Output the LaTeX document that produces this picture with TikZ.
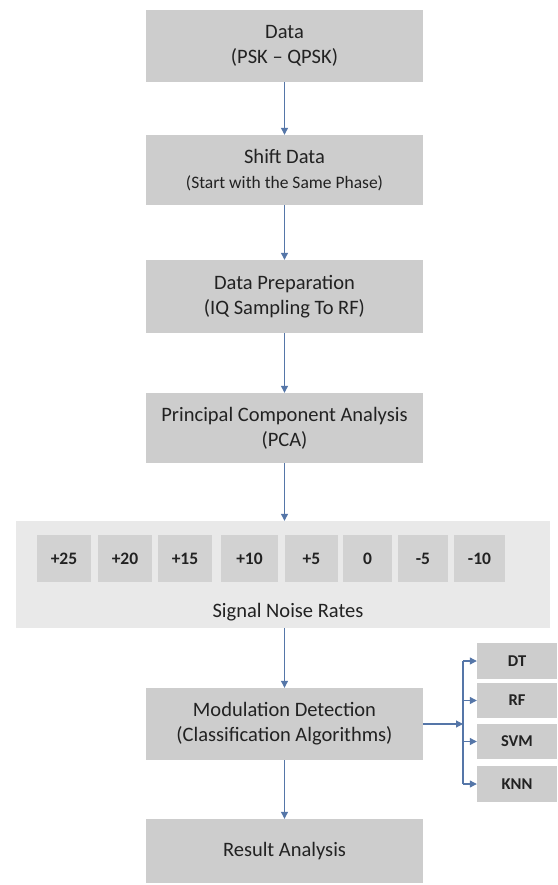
\documentclass[tikz,border=0pt]{standalone}
\usepackage{fontspec}
\setmainfont{Carlito}
\usetikzlibrary{arrows.meta}
\definecolor{boxgray}{HTML}{CDCDCD}
\definecolor{panelgray}{HTML}{E9E9E9}
\definecolor{smallgray}{HTML}{D2D2D2}
\definecolor{arrowblue}{HTML}{5576A8}
\definecolor{txt}{HTML}{222222}
\begin{document}
\begin{tikzpicture}[x=1pt,y=-1pt,
  mainbox/.style={fill=boxgray, draw=none, minimum width=277pt, inner sep=0pt, align=center, text=txt, font=\fontsize{20.5}{25}\selectfont},
  snrbox/.style={fill=smallgray, draw=none, minimum height=47pt, inner sep=0pt, text=txt, font=\fontsize{17.5}{20}\selectfont\bfseries},
  algbox/.style={fill=boxgray, draw=none, minimum width=80pt, inner sep=0pt, text=txt, font=\fontsize{16.5}{18}\selectfont\bfseries},
  flow/.style={draw=arrowblue, line width=1.1pt, -{Triangle[length=7pt,width=7pt]}},
  busline/.style={draw=arrowblue, line width=1.1pt}
]
\useasboundingbox (0,0) rectangle (557,885);
\fill[white] (0,0) rectangle (557,885);

\node[mainbox, minimum height=72pt] (data) at (284.5,46) {Data\\(PSK -- QPSK)};
\node[mainbox, minimum height=70pt] (shift) at (284.5,170) {Shift Data\\{\fontsize{17.5}{22}\selectfont (Start with the Same Phase)}};
\node[mainbox, minimum height=73pt] (prep) at (284.5,296.5) {Data Preparation\\(IQ Sampling To RF)};
\node[mainbox, minimum height=70pt] (pca) at (284.5,428) {Principal Component Analysis\\(PCA)};

\node[fill=panelgray, draw=none, minimum width=534pt, minimum height=107pt, inner sep=0pt] (panel) at (283,574.5) {};
\node[snrbox, minimum width=54pt] (s25) at (64,558.5) {+25};
\node[snrbox, minimum width=54pt] (s20) at (125,558.5) {+20};
\node[snrbox, minimum width=54pt] (s15) at (185,558.5) {+15};
\node[snrbox, minimum width=57pt] (s10) at (249.5,558.5) {+10};
\node[snrbox, minimum width=53pt] (s5) at (311.5,558.5) {+5};
\node[snrbox, minimum width=49pt] (s0) at (367.5,558.5) {0};
\node[snrbox, minimum width=50pt] (sm5) at (423,558.5) {-5};
\node[snrbox, minimum width=51pt] (sm10) at (479.5,558.5) {-10};
\node[text=txt, font=\fontsize{20.5}{23}\selectfont, inner sep=0pt] (snrlabel) at (288,612) {Signal Noise Rates};

\node[mainbox, minimum height=72pt] (mod) at (284.5,724) {Modulation Detection\\(Classification Algorithms)};
\node[mainbox, minimum height=64pt] (res) at (284.5,851) {Result Analysis};

\node[algbox, minimum height=36pt] (dt) at (517,661) {DT};
\node[algbox, minimum height=35pt] (rf) at (517,700.5) {RF};
\node[algbox, minimum height=35pt] (svm) at (517,741.5) {SVM};
\node[algbox, minimum height=36pt] (knn) at (517,784) {KNN};

\draw[flow] (data) -- (shift);
\draw[flow] (shift) -- (prep);
\draw[flow] (prep) -- (pca);
\draw[flow] (pca.south) -- (panel.north -| pca.south);
\draw[flow] (panel.south -| mod.north) -- (mod);
\draw[flow] (mod) -- (res);

\coordinate (bus) at (463,724);
\coordinate (bustop) at (463,661);
\coordinate (busbot) at (463,784);
\draw[flow] (mod.east) -- (bus);
\draw[busline] (bustop) -- (busbot);
\draw[flow] (bustop) -- (dt.west);
\draw[flow] (bustop |- rf.west) -- (rf.west);
\draw[flow] (bustop |- svm.west) -- (svm.west);
\draw[flow] (busbot) -- (knn.west);
\end{tikzpicture}
\end{document}
